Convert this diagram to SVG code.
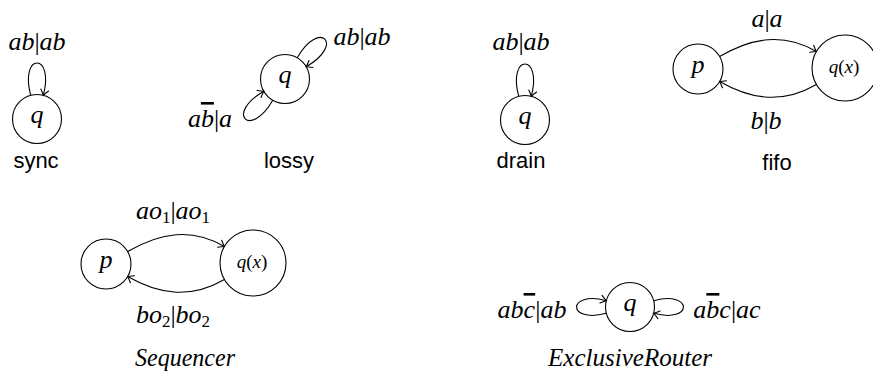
<svg xmlns="http://www.w3.org/2000/svg" width="873" height="379" viewBox="0 0 873 379">
<style>
.st{fill:none;stroke:#000;stroke-width:1.1}
.ed{fill:none;stroke:#000;stroke-width:1.1;marker-end:url(#arr)}
.m{font-family:"Liberation Serif",serif;font-style:italic;font-size:26px;fill:#000;text-anchor:middle}
.s{font-family:"Liberation Serif",serif;font-style:italic;font-size:19px;fill:#000;text-anchor:middle}
.cap{font-family:"Liberation Sans",sans-serif;font-size:22px;fill:#000;text-anchor:middle}
.up{font-style:normal}
.ov{text-decoration:overline;text-decoration-thickness:1px}
.sub{font-style:normal;font-size:17px}
</style>
<defs>
<marker id="arr" viewBox="-7 -6 9 12" refX="0" refY="0" markerWidth="9" markerHeight="12" orient="auto" markerUnits="userSpaceOnUse">
<path d="M-5.5,-4 Q-1.8,-1 0,0 Q-1.8,1 -5.5,4" fill="none" stroke="#000" stroke-width="1.1" stroke-linecap="round"/>
</marker>
</defs>

<g id="connectors">
<path class="ed" d="M30.7,95.3 C19.15,52.2 54.85,52.2 43.3,95.3"/>
<path class="ed" d="M297.25,57.8 C319.75,18.8 345.2,44.25 306.2,66.75"/>
<path class="ed" d="M272.75,100.2 C250.25,139.2 224.8,113.75 263.8,91.25"/>
<path class="ed" d="M518.7,96.3 C507.15,53.2 542.85,53.2 531.3,96.3"/>
<path class="ed" d="M719.65,56.5 C752.5,37.5 783.6,32.5 816.4,51.5"/>
<path class="ed" d="M816.4,84.5 C783.6,103.45 752.5,100.45 719.65,81.5"/>
<path class="ed" d="M127.65,251.5 C160.5,232.5 191.6,227.5 224.4,246.5"/>
<path class="ed" d="M224.4,279.5 C191.6,298.45 160.5,295.45 127.65,276.5"/>
<path class="ed" d="M606.33,313.34 C566.7,323.96 566.7,290.06 606.33,300.66"/>
<path class="ed" d="M653.67,300.66 C693.3,290.06 693.3,323.94 653.67,313.34"/>
</g>

<g id="sync">
<circle class="st" cx="37" cy="119" r="24.5"/>
<text class="m" x="37" y="123">q</text>
<text class="m" x="37" y="50">ab<tspan class="up">|</tspan>ab</text>
<text class="cap" x="36" y="168">sync</text>
</g>

<g id="lossy">
<circle class="st" cx="285" cy="79" r="24.5"/>
<text class="m" x="285" y="83">q</text>
<text class="m" x="362" y="45">ab<tspan class="up">|</tspan>ab</text>
<text class="m" x="210" y="127">a<tspan class="ov">b</tspan><tspan class="up">|</tspan>a</text>
<text class="cap" x="289" y="168">lossy</text>
</g>

<g id="drain">
<circle class="st" cx="525" cy="120" r="24.5"/>
<text class="m" x="525" y="124">q</text>
<text class="m" x="521" y="50">ab<tspan class="up">|</tspan>ab</text>
<text class="cap" x="521" y="168">drain</text>
</g>

<g id="fifo">
<circle class="st" cx="698" cy="69" r="25"/>
<text class="m" x="698" y="73">p</text>
<circle class="st" cx="845" cy="68" r="33"/>
<text class="s" x="844" y="73">q<tspan class="up">(</tspan>x<tspan class="up">)</tspan></text>
<text class="m" x="767" y="27">a<tspan class="up">|</tspan>a</text>
<text class="m" x="766" y="129">b<tspan class="up">|</tspan>b</text>
<text class="cap" x="777" y="170">fifo</text>
</g>

<g id="sequencer">
<circle class="st" cx="106" cy="264" r="25"/>
<text class="m" x="106" y="268">p</text>
<circle class="st" cx="253" cy="263" r="33"/>
<text class="s" x="252" y="268">q<tspan class="up">(</tspan>x<tspan class="up">)</tspan></text>
<text class="m" x="173" y="219">ao<tspan class="sub" dy="4">1</tspan><tspan class="up" dy="-4">|</tspan>ao<tspan class="sub" dy="4">1</tspan></text>
<text class="m" x="173" y="323">bo<tspan class="sub" dy="4">2</tspan><tspan class="up" dy="-4">|</tspan>bo<tspan class="sub" dy="4">2</tspan></text>
<text class="m" x="185" y="366" textLength="100" lengthAdjust="spacingAndGlyphs">Sequencer</text>
</g>

<g id="exclusiverouter">
<circle class="st" cx="630" cy="307" r="24.5"/>
<text class="m" x="630" y="311">q</text>
<text class="m" x="532" y="318">ab<tspan class="ov">c</tspan><tspan class="up">|</tspan>ab</text>
<text class="m" x="727" y="318">a<tspan class="ov">b</tspan>c<tspan class="up">|</tspan>ac</text>
<text class="m" x="630" y="366" textLength="164" lengthAdjust="spacingAndGlyphs">ExclusiveRouter</text>
</g>
</svg>
